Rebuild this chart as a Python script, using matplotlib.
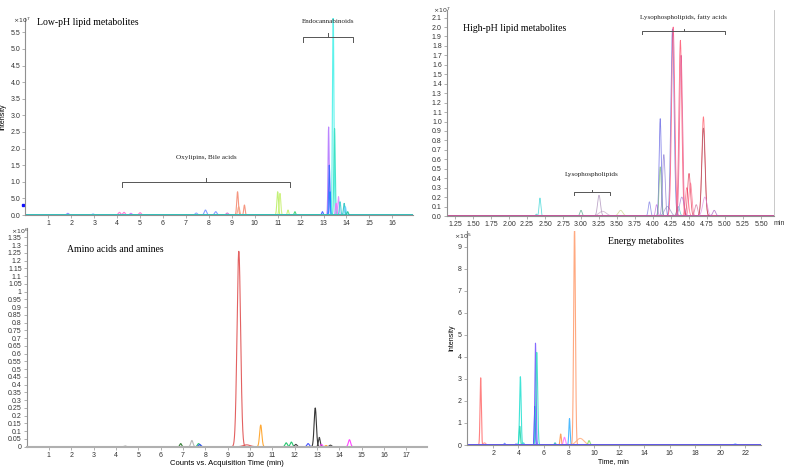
import numpy as np
import matplotlib.pyplot as plt

W, H = 792, 473

# ---- Low-pH lipid metabolites (x10^7) ----
lo_rt = [1.85, 2.95, 4.1, 4.3, 4.6, 5.0, 7.45, 7.85, 8.3, 8.8, 9.25, 9.3, 9.55,
         11.0, 11.1, 11.45, 11.75, 12.95, 13.22, 13.25, 13.28, 13.42, 13.48,
         13.55, 13.65, 13.72, 13.9, 13.95, 14.05]
lo_height = [0.05, 0.03, 0.08, 0.08, 0.05, 0.07, 0.06, 0.15, 0.1, 0.06, 0.70, 0.25, 0.30,
             0.70, 0.65, 0.15, 0.10, 0.10, 2.65, 1.50, 0.70, 6.2, 2.6,
             0.35, 0.55, 0.40, 0.35, 0.25, 0.10]
lo_width = [0.05, 0.05, 0.05, 0.05, 0.05, 0.05, 0.05, 0.05, 0.05, 0.05, 0.035, 0.04, 0.03,
            0.035, 0.035, 0.03, 0.03, 0.03, 0.025, 0.025, 0.03, 0.03, 0.03,
            0.03, 0.03, 0.03, 0.03, 0.03, 0.03]
lo_color = ["#8080ff", "#60a0ff", "#ff66cc", "#ff66cc", "#cc66ff", "#ff66cc", "#80a0ff",
            "#7090ff", "#7090ff", "#cc66cc", "#f4846a", "#f4a080", "#f4846a",
            "#b8ee60", "#c8f070", "#c8f070", "#30d070", "#3050ff", "#b070ff", "#3060ff",
            "#2080ff", "#40f0e8", "#30e0c0", "#ff66ff", "#e080ff", "#30d0d0", "#20c0c0",
            "#60d0ff", "#10c090"]

# ---- High-pH lipid metabolites (x10^7) ----
hi_rt = [2.38, 2.43, 3.0, 3.25, 3.3, 3.55, 3.95, 4.05, 4.1, 4.1, 4.15, 4.2, 4.27, 4.28,
         4.35, 4.38, 4.39, 4.4, 4.47, 4.5, 4.52, 4.6, 4.7, 4.7, 4.72, 4.85]
hi_height = [0.02, 0.19, 0.06, 0.22, 0.05, 0.06, 0.15, 0.12, 1.03, 0.52, 0.65, 0.10, 1.98, 2.00,
             0.10, 1.86, 1.70, 0.20, 0.30, 0.45, 0.35, 0.12, 1.05, 0.93, 0.20, 0.06]
hi_width = [0.01, 0.012, 0.015, 0.02, 0.05, 0.03, 0.015, 0.015, 0.015, 0.015, 0.018, 0.04, 0.022, 0.022,
            0.02, 0.02, 0.02, 0.03, 0.02, 0.02, 0.02, 0.02, 0.022, 0.022, 0.03, 0.02]
hi_color = ["#30c0c0", "#20d0d0", "#40a080", "#a080b0", "#c0a0c0", "#c8d080", "#7070e0",
            "#c060e0", "#5050e0", "#70b070", "#8070d0", "#9090c0", "#6060d0", "#ff3060",
            "#40c0c0", "#ff3050", "#e04080", "#a070d0", "#ff5070", "#e02040", "#ff6080",
            "#d06090", "#ff4050", "#a04050", "#e080e0", "#a050c0"]

# ---- Amino acids and amines (x10^6) ----
aa_rt = [4.4, 6.9, 7.4, 7.7, 7.75, 9.5, 9.85, 10.48, 11.62, 11.85, 12.05, 12.6, 12.92,
         13.1, 13.2, 13.4, 13.6, 14.45]
aa_height = [0.003, 0.02, 0.04, 0.02, 0.015, 1.26, 0.012, 0.14, 0.025, 0.03, 0.015, 0.02, 0.25,
             0.06, 0.015, 0.008, 0.01, 0.045]
aa_width = [0.05, 0.04, 0.05, 0.05, 0.05, 0.08, 0.15, 0.05, 0.05, 0.05, 0.05, 0.05, 0.05,
            0.04, 0.04, 0.04, 0.05, 0.05]
aa_color = ["#303030", "#207020", "#b0b0b0", "#10c060", "#3040ff", "#e05050", "#e05050",
            "#ffa020", "#10c060", "#10c060", "#303030", "#3040ff", "#202020", "#303030",
            "#ff30ff", "#ffa020", "#303030", "#ff30ff"]

# ---- Energy metabolites (x10^5) ----
en_rt = [1.0, 1.3, 2.9, 3.8, 4.1, 4.15, 4.4, 5.3, 5.35, 5.45, 6.9, 7.35, 7.65, 8.05,
         8.45, 8.9, 9.6, 21.2]
en_height = [3.05, 0.10, 0.08, 0.05, 0.85, 3.10, 0.10, 1.75, 4.62, 4.20, 0.10, 0.50, 0.35, 1.20,
             9.9, 0.30, 0.20, 0.05]
en_width = [0.05, 0.1, 0.05, 0.05, 0.05, 0.06, 0.05, 0.04, 0.05, 0.07, 0.05, 0.05, 0.08, 0.05,
            0.07, 0.3, 0.07, 0.1]
en_color = ["#ff6b6b", "#ff9090", "#6080ff", "#4060ff", "#20d0a0", "#20e0d0", "#40d0e0",
            "#2030ff", "#7050ff", "#30e0c0", "#30b0c0", "#ff9040", "#ff70ff", "#30b0ff",
            "#ff9a6a", "#ffb080", "#80e060", "#60a0ff"]


def rect(l, r, top, bottom):
    return [l / W, 1 - bottom / H, (r - l) / W, (bottom - top) / H]


def style(ax):
    for s in ["top", "right"]:
        ax.spines[s].set_visible(False)
    for s in ["left", "bottom"]:
        ax.spines[s].set_color("#909090")
        ax.spines[s].set_linewidth(0.8)
    ax.tick_params(labelsize=5, colors="#909090", labelcolor="#333333",
                   length=2, width=0.5, pad=1.5)
    for lab in ax.get_xticklabels() + ax.get_yticklabels():
        lab.set_family("Liberation Sans")


def traces(ax, x, rts, heights, widths, colors, lw=0.8, alpha=0.85):
    for rt, h, w, c in zip(rts, heights, widths, colors):
        y = h * np.exp(-0.5 * ((x - rt) / w) ** 2)
        ax.plot(x, y, color=c, lw=lw, alpha=alpha)


def bracket(ax, x0, x1, y, drop, label, ly, fs=5.1):
    xm = (x0 + x1) / 2
    ax.plot([x0, x0, x1, x1], [y - drop, y, y, y - drop], color="#555555", lw=0.7, clip_on=False)
    ax.plot([xm, xm], [y, y + drop * 0.8], color="#555555", lw=0.7, clip_on=False)
    ax.text(xm, ly, label, ha="center", va="center", fontsize=fs,
            family="Liberation Serif", color="#222222")


fig = plt.figure(figsize=(W / 100, H / 100), dpi=100)
serif = "Liberation Serif"

# Panel 1
ax1 = fig.add_axes(rect(25.4, 413, 18, 215))
x = np.linspace(0, 17, 4000)
ax1.plot(x, np.zeros_like(x), color="#d080c0", lw=0.8, alpha=0.6)
traces(ax1, x, lo_rt, lo_height, lo_width, lo_color)
ax1.set_xlim(0, 16.9)
ax1.set_ylim(0, 5.93)
ax1.set_xticks(range(1, 17))
yt = np.arange(0, 5.51, 0.5)
ax1.set_yticks(yt)
ax1.set_yticklabels(["0.0", "5.0"] + [f"{v:.1f}" for v in yt[2:]])
style(ax1)
ax1.set_xlabel("Time, min", fontsize=5, family="Liberation Sans", labelpad=1.5)
ax1.set_ylabel("Intensity", fontsize=5, family="Liberation Sans", labelpad=3)
ax1.text(0.03, 1.0, "Low-pH lipid metabolites", transform=ax1.transAxes,
         fontsize=7, family=serif, va="top")
ax1.plot([-0.12], [0.3], "s", color="#1010ff", ms=1.5, clip_on=False)
bracket(ax1, 4.2, 11.55, 1.0, 0.15, "Oxylipins, Bile acids", 1.72)
bracket(ax1, 12.1, 14.3, 5.35, 0.15, "Endocannabinoids", 5.82)
fig.text(13 / W, 1 - 20 / H, r"$\times10^7$", fontsize=4.5, color="#333333", va="center")

# Panel 2
ax2 = fig.add_axes(rect(446.7, 774, 10, 216))
x = np.linspace(1.1, 5.7, 4000)
traces(ax2, x, hi_rt, hi_height, hi_width, hi_color, lw=0.6, alpha=0.7)
ax2.set_xlim(1.135, 5.68)
ax2.set_ylim(0, 2.18)
ax2.set_xticks(np.arange(1.25, 5.51, 0.25))
ax2.set_xticklabels([f"{v:.2f}" for v in np.arange(1.25, 5.51, 0.25)])
ax2.set_yticks(np.arange(0, 2.11, 0.1))
ax2.set_yticklabels([f"{v:.1f}" for v in np.arange(0, 2.11, 0.1)])
style(ax2)
ax2.spines["right"].set_visible(True)
ax2.spines["right"].set_color("#c0c0c0")
ax2.spines["right"].set_linewidth(0.6)
ax2.text(1.0, -0.02, "min", transform=ax2.transAxes, fontsize=5,
         family="Liberation Sans", ha="left", va="top", color="#333333")
ax2.text(0.05, 0.91, "High-pH lipid metabolites", transform=ax2.transAxes,
         fontsize=7, family=serif, va="center")
bracket(ax2, 2.9, 3.4, 0.255, 0.03, "Lysophospholipids", 0.44)
bracket(ax2, 3.85, 5.0, 1.955, 0.03, "Lysophospholipids, fatty acids", 2.1)
fig.text(433 / W, 1 - 10 / H, r"$\times10^7$", fontsize=4.5, color="#333333", va="center")

# Panel 3
ax3 = fig.add_axes(rect(26.5, 427, 228, 446.7))
x = np.linspace(0, 18, 4000)
traces(ax3, x, aa_rt, aa_height, aa_width, aa_color, lw=0.8, alpha=0.9)
ax3.plot(x, np.zeros_like(x), color="#c04040", lw=0.8)
ax3.set_xlim(0, 17.92)
ax3.set_ylim(0, 1.41)
ax3.set_xticks(range(1, 18))
yt = np.round(np.arange(0, 1.351, 0.05), 2)
ax3.set_yticks(yt)
ax3.set_yticklabels([f"{v:g}" for v in yt])
style(ax3)
ax3.spines["bottom"].set_linewidth(1.5)
ax3.spines["bottom"].set_color("#b0b0b0")
ax3.set_xlabel("Counts vs. Acquisition Time (min)", fontsize=5.5,
               family="Liberation Sans", labelpad=1)
ax3.text(0.1, 0.9, "Amino acids and amines", transform=ax3.transAxes,
         fontsize=7, family=serif, va="center")
fig.text(11 / W, 1 - 231 / H, r"$\times10^6$", fontsize=4.5, color="#333333", va="center")

# Panel 4
ax4 = fig.add_axes(rect(466.7, 761, 231, 445))
x = np.linspace(-0.2, 23.3, 6000)
traces(ax4, x, en_rt, en_height, en_width, en_color, lw=0.8, alpha=0.85)
ax4.plot(x, np.zeros_like(x), color="#5030ff", lw=1.0)
ax4.set_xlim(-0.11, 23.25)
ax4.set_ylim(0, 9.71)
ax4.set_xticks(range(2, 23, 2))
ax4.set_yticks(range(0, 10))
style(ax4)
ax4.set_xlabel("Time, min", fontsize=5, family="Liberation Sans", labelpad=1)
ax4.set_ylabel("Intensity", fontsize=5, family="Liberation Sans", labelpad=2)
ax4.text(0.48, 0.95, "Energy metabolites", transform=ax4.transAxes,
         fontsize=7, family=serif, va="center")
fig.text(454 / W, 1 - 236 / H, r"$\times10^5$", fontsize=4.5, color="#333333", va="center")

fig.savefig("out.png", dpi=100)
